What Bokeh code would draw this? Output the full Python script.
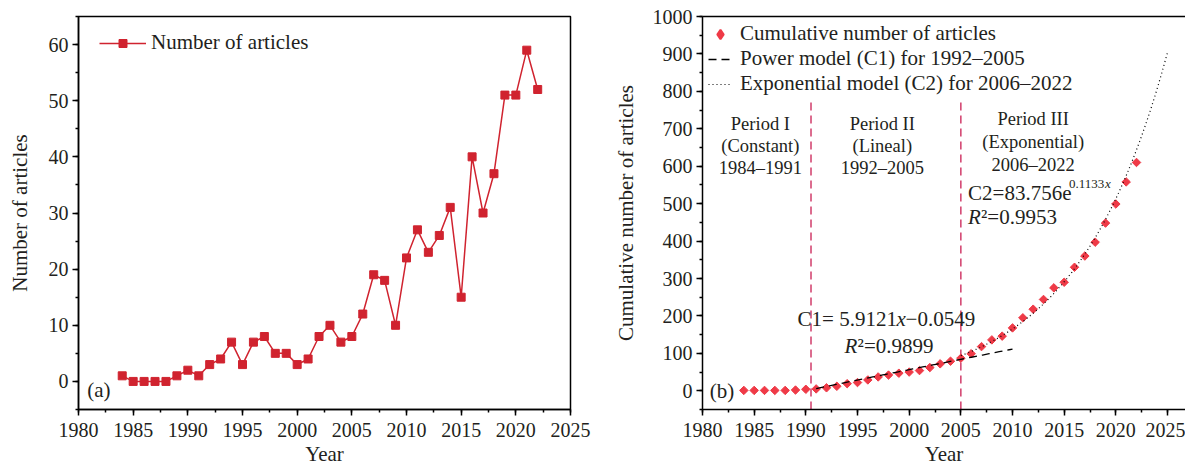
import math
import numpy as np
from bokeh.plotting import figure
from bokeh.layouts import row
from bokeh.models import (Range1d, SingleIntervalTicker, FixedTicker, LinearAxis,
                          Legend, LegendItem, Label, ColumnDataSource)
from bokeh.embed import file_html
from bokeh.resources import INLINE

# ---------------- data ----------------
years = list(range(1984, 2023))
articles = [1, 0, 0, 0, 0, 1, 2, 1, 3, 4, 7, 3, 7, 8, 5, 5, 3, 4, 8, 10,
            7, 8, 12, 19, 18, 10, 22, 27, 23, 26, 31, 15, 40, 30, 37, 51, 51, 59, 52]
cumulative = [1, 1, 1, 1, 1, 2, 4, 5, 8, 12, 19, 22, 29, 37, 42, 47, 50, 54, 62, 72,
              79, 87, 99, 118, 136, 146, 168, 195, 218, 244, 275, 290, 330, 360, 397,
              448, 499, 558, 610]

# model curves (C1 power model, C2 exponential model)
c1_coef, c1_pow, c1_base, c1_years = 5.9121, 0.98, 1990, (1991, 2010)
c2_coef, c2_rate, c2_base, c2_years = 83.756, 0.1133, 2004, (2005, 2025)

period_bounds = [1990.5, 2005]
period_top = 780

legend_a = "Number of articles"
legend_b = ["Cumulative number of articles",
            "Power model (C1) for 1992\u20132005",
            "Exponential model (C2) for 2006\u20132022"]

# ---------------- styling ----------------
FONT = "Liberation Serif"
TXT = "#231f20"
RED_A = "#d0232f"
RED_B = "#ef3a47"
PINK = "#d13c6a"

H = 469


def style(p, xint, yint, ylab_standoff):
    p.xgrid.visible = False
    p.ygrid.visible = False
    p.xaxis.ticker = SingleIntervalTicker(interval=xint, num_minor_ticks=2)
    p.yaxis.ticker = SingleIntervalTicker(interval=yint, num_minor_ticks=2)
    for ax in (p.xaxis[0], p.yaxis[0]):
        ax.axis_line_width = 1.5
        ax.axis_line_color = "black"
        ax.major_tick_in = 0
        ax.major_tick_out = 6
        ax.minor_tick_in = 0
        ax.minor_tick_out = 3
        ax.major_tick_line_width = 1.5
        ax.minor_tick_line_width = 1.5
        ax.major_tick_line_color = "black"
        ax.minor_tick_line_color = "black"
        ax.major_label_text_font = FONT
        ax.major_label_text_font_size = "20px"
        ax.major_label_text_color = TXT
        ax.axis_label_text_font = FONT
        ax.axis_label_text_font_size = "21px"
        ax.axis_label_text_font_style = "normal"
        ax.axis_label_text_color = TXT
    p.xaxis.major_label_standoff = 7
    p.xaxis.axis_label_standoff = 2
    p.yaxis.major_label_standoff = 4
    p.yaxis.axis_label_standoff = ylab_standoff


def label(p, x, y, text, size="21px", align="center", style_="normal", xo=0, yo=0):
    p.add_layout(Label(x=x, y=y, text=text, text_font=FONT, text_font_size=size,
                       text_color=TXT, text_align=align, text_baseline="middle",
                       text_font_style=style_, x_offset=xo, y_offset=yo))


# ---------------- panel (a) ----------------
pa = figure(width=600, height=H, output_backend="svg", toolbar_location=None,
            x_range=Range1d(1980, 2025), y_range=Range1d(-5, 65),
            min_border_left=78, min_border_right=30, min_border_top=16,
            min_border_bottom=60)
style(pa, 5, 10, 14)
pa.xaxis.axis_label = "Year"
pa.yaxis.axis_label = "Number of articles"
pa.outline_line_color = "black"
pa.outline_line_width = 1.5
pa.outline_line_alpha = 1

src_a = ColumnDataSource(dict(year=years, n=articles))
la = pa.line("year", "n", source=src_a, line_color=RED_A, line_width=1.5)
sa = pa.scatter("year", "n", source=src_a, marker="square", size=8,
                fill_color=RED_A, line_color=RED_A)
leg_a = Legend(items=[LegendItem(label=legend_a, renderers=[la, sa])],
               location=(21, 354), padding=0, margin=0, spacing=0,
               glyph_width=47, glyph_height=20, label_height=24,
               label_standoff=5, label_text_font=FONT, label_text_font_size="21px",
               label_text_color=TXT, background_fill_alpha=0,
               border_line_color=None)
pa.add_layout(leg_a)
label(pa, 1980.8, -1.45, "(a)", align="left")

# ---------------- panel (b) ----------------
pb = figure(width=585, height=H, output_backend="svg", toolbar_location=None,
            x_range=Range1d(1980, 2026.74), y_range=Range1d(-50, 1000),
            min_border_left=102, min_border_right=0, min_border_top=16,
            min_border_bottom=60)
style(pb, 5, 100, 12)
pb.xaxis.axis_label = "Year"
pb.yaxis.axis_label = "Cumulative number of articles"
pb.outline_line_color = None
top_axis = LinearAxis(ticker=FixedTicker(ticks=[]), major_tick_line_color=None,
                      minor_tick_line_color=None, axis_line_width=1.5,
                      axis_line_color="black")
pb.add_layout(top_axis, "above")

for xb in period_bounds:
    pb.segment(x0=[xb], y0=[-50], x1=[xb], y1=[period_top], line_color=PINK,
               line_width=1.5, line_dash="8 5")

x1 = np.linspace(c1_years[0], c1_years[1], 60)
y1 = c1_coef * (x1 - c1_base) ** c1_pow
x2 = np.linspace(c2_years[0], c2_years[1], 120)
y2 = c2_coef * np.exp(c2_rate * (x2 - c2_base))

sb = pb.scatter(years, cumulative, marker="square", angle=math.pi / 4, size=6,
                fill_color=RED_B, line_color=RED_B)
# legend key (not drawn in the plot area: NaN position) so the key shows a diamond
sb_key = pb.scatter(x=[np.nan], y=[np.nan], marker="diamond", size=15,
                    fill_color=RED_B, line_color=RED_B, line_width=2)
l1 = pb.line(x1, y1, line_color="black", line_width=1.3, line_dash="8 5")
l2 = pb.line(x2, y2, line_color="black", line_width=1.2, line_dash="1 3")

leg_b = Legend(items=[LegendItem(label=legend_b[0], renderers=[sb_key]),
                      LegendItem(label=legend_b[1], renderers=[l1]),
                      LegendItem(label=legend_b[2], renderers=[l2])],
               location=(6, 313), padding=0, margin=0, spacing=0,
               glyph_width=24, glyph_height=24, label_height=24,
               label_standoff=8, label_text_font=FONT, label_text_font_size="21px",
               label_text_color=TXT, background_fill_alpha=0,
               border_line_color=None)
pb.add_layout(leg_b)

PS = "18.5px"
label(pb, 1985.6, 712, "Period I", PS)
label(pb, 1985.6, 654, "(Constant)", PS)
label(pb, 1985.6, 596, "1984\u20131991", PS)
label(pb, 1997.4, 712, "Period II", PS)
label(pb, 1997.4, 654, "(Lineal)", PS)
label(pb, 1997.4, 596, "1992\u20132005", PS)
label(pb, 2012.0, 726, "Period III", PS)
label(pb, 2012.0, 665, "(Exponential)", PS)
label(pb, 2012.0, 603, "2006\u20132022", PS)

# C2 formula
label(pb, 2005.7, 529, "C2=83.756e", align="left")
label(pb, 2005.7, 529, "0.1133", size="13px", align="left", xo=101, yo=9)
label(pb, 2005.7, 529, "x", size="13px", align="left", style_="italic", xo=137, yo=9)
label(pb, 2005.7, 465, "R", align="left", style_="italic")
label(pb, 2005.7, 465, "\u00b2=0.9953", align="left", xo=13)

# C1 formula
label(pb, 1989.2, 191, "C1= 5.9121", align="left")
label(pb, 1989.2, 191, "x", align="left", style_="italic", xo=99)
label(pb, 1989.2, 191, "\u22120.0549", align="left", xo=108)
label(pb, 1993.75, 120, "R", align="left", style_="italic")
label(pb, 1993.75, 120, "\u00b2=0.9899", align="left", xo=13)

label(pb, 1980.7, 0, "(b)", align="left")

layout = row(pa, pb)
open("out.html", "w").write(file_html(layout, INLINE))
